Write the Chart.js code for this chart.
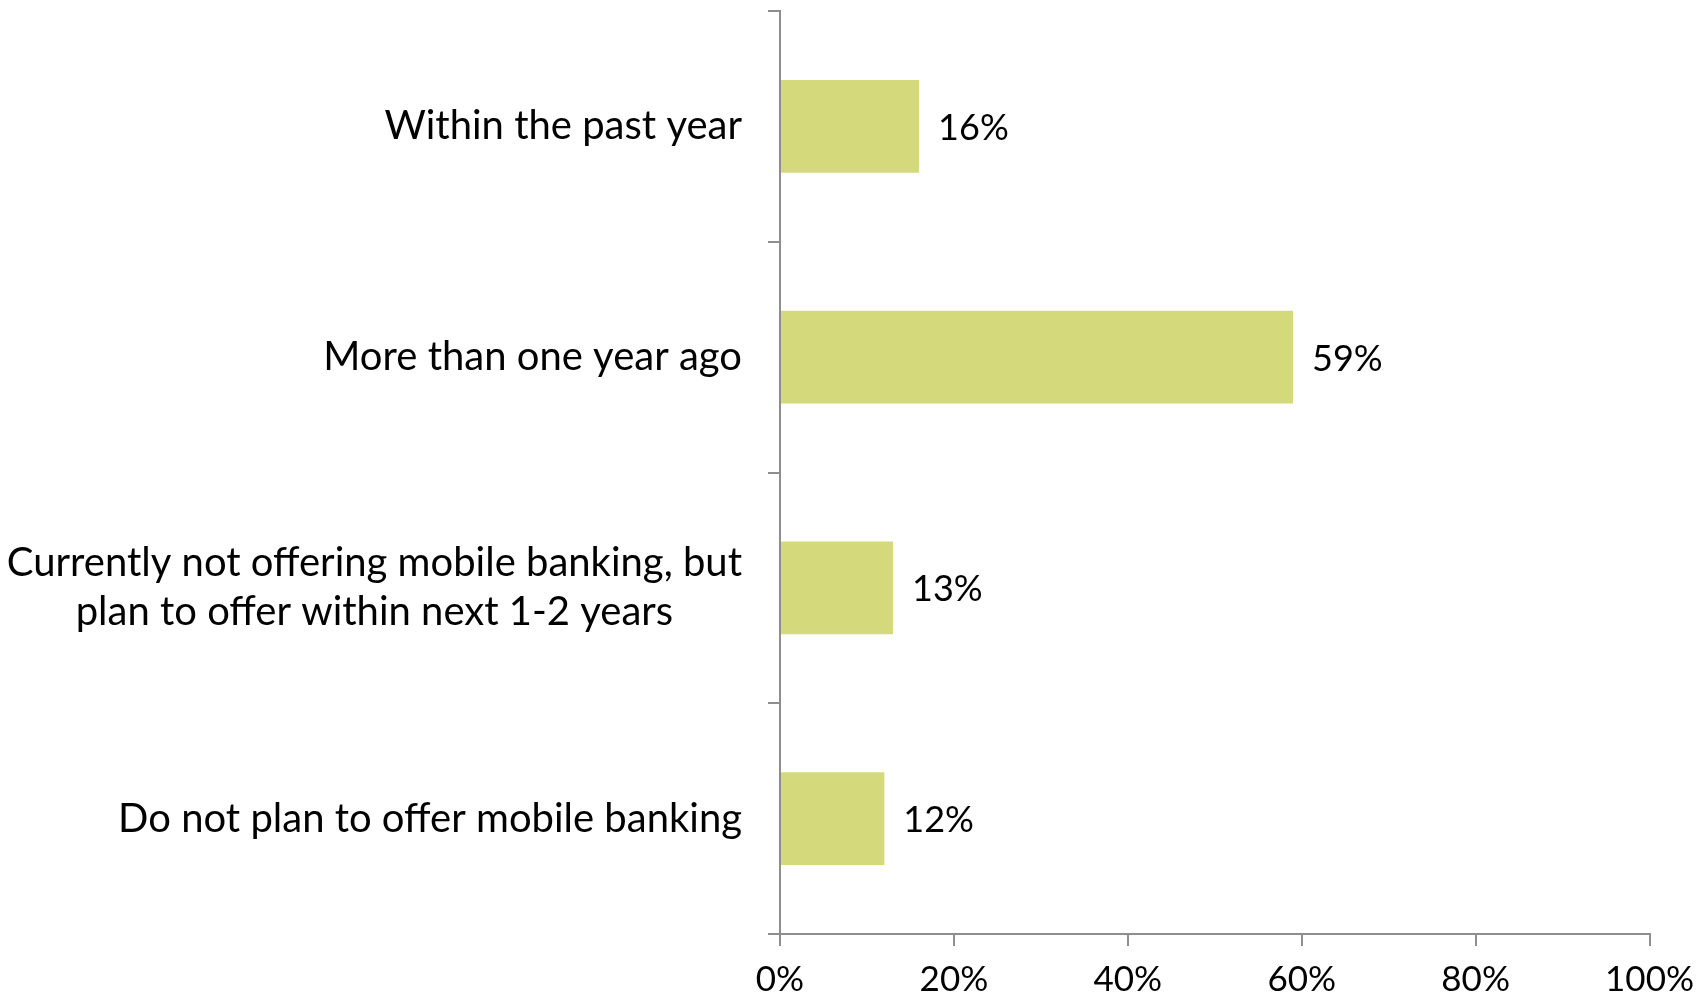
<!DOCTYPE html>
<html>
<head>
<meta charset="utf-8">
<script src="https://cdn.jsdelivr.net/npm/chart.js@4"></script>
<style>
  html, body { margin: 0; padding: 0; background: #fff; }
  #wrap { width: 1707px; height: 996px; }
</style>
</head>
<body>
<div id="wrap"><canvas id="grafika"></canvas></div>
<script>
// categories (top to bottom) and the share for each
const categories = [
    'Within the past year',
    'More than one year ago',
    ['Currently not offering mobile banking, but', 'plan to offer within next 1-2 years'],
    'Do not plan to offer mobile banking'
];
const shares = [16, 59, 13, 12];
const xTicks = [0, 20, 40, 60, 80, 100];

const barColor = '#d4da7c';
const axisColor = '#8e8e8e';
const fontFamily = "Lato, 'Open Sans', sans-serif";

// "NN%" right after each bar + category names (multi-line ones centred as a block)
const textLabels = {
    id: 'textLabels',
    afterDatasetsDraw(chart) {
        const ctx = chart.ctx;
        const meta = chart.getDatasetMeta(0);
        const yScale = chart.scales.y;
        ctx.save();
        ctx.fillStyle = '#000';
        ctx.textBaseline = 'middle';

        ctx.font = '36px ' + fontFamily;
        ctx.textAlign = 'left';
        meta.data.forEach((bar, i) => {
            ctx.fillText(shares[i] + '%', bar.x + 19, bar.y + 2);
        });

        ctx.font = '40px ' + fontFamily;
        ctx.textAlign = 'center';
        const rightEdge = yScale.right - 38;
        const lineH = 49;
        categories.forEach((cat, i) => {
            const lines = Array.isArray(cat) ? cat : [cat];
            const maxW = Math.max(...lines.map(l => ctx.measureText(l).width));
            const cx = rightEdge - maxW / 2;
            const cy = yScale.getPixelForTick(i);
            const y0 = cy - (lines.length - 1) * lineH / 2;
            lines.forEach((l, k) => ctx.fillText(l, cx, y0 + k * lineH));
        });
        ctx.restore();
    }
};

const ctx = document.getElementById('grafika').getContext('2d');
new Chart(ctx, {
    type: 'bar',
    data: {
        labels: categories,
        datasets: [{
            data: shares,
            backgroundColor: barColor,
            borderWidth: 0,
            barPercentage: 0.403,
            categoryPercentage: 1.0
        }]
    },
    plugins: [textLabels],
    options: {
        indexAxis: 'y',
        responsive: true,
        maintainAspectRatio: false,
        animation: false,
        layout: { padding: { left: 0, top: 11, right: 57, bottom: 0 } },
        plugins: {
            legend: { display: false },
            tooltip: { enabled: false }
        },
        scales: {
            x: {
                min: 0,
                max: 100,
                afterBuildTicks(scale) {
                    scale.ticks = xTicks.map(v => ({ value: v }));
                },
                afterFit(scale) { scale.height = 62; },
                grid: {
                    drawOnChartArea: false,
                    drawTicks: true,
                    tickLength: 12,
                    color: axisColor,
                    lineWidth: 2
                },
                border: { color: axisColor, width: 2 },
                ticks: {
                    color: '#000',
                    padding: 13,
                    maxRotation: 0,
                    font: { family: fontFamily, size: 35 },
                    callback: v => v + '%'
                }
            },
            y: {
                afterFit(scale) {
                    scale.width = 780;
                    scale.paddingTop = 0;
                    scale.paddingBottom = 0;
                },
                grid: {
                    offset: true,
                    drawOnChartArea: false,
                    drawTicks: true,
                    tickLength: 12,
                    color: axisColor,
                    lineWidth: 2
                },
                border: { color: axisColor, width: 2 },
                ticks: { display: false }
            }
        }
    }
});
</script>
</body>
</html>
